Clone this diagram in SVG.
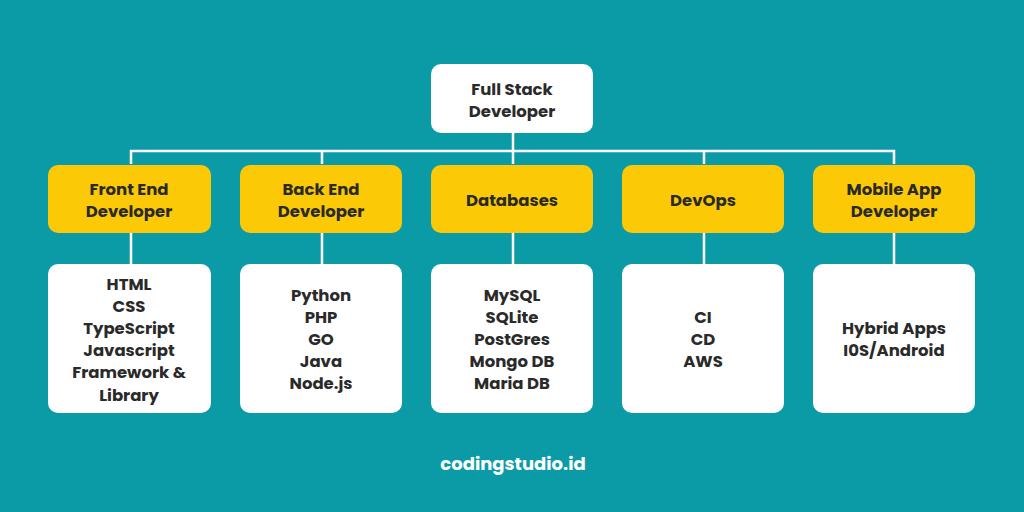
<svg xmlns="http://www.w3.org/2000/svg" width="1024" height="512" viewBox="0 0 1024 512">
<style>
.bg{fill:#0b9ba6}
.w{fill:#ffffff}
.y{fill:#fcc907}
.t{font-family:Poppins,"Inter","Liberation Sans",sans-serif;font-weight:700;font-size:16.5px;fill:#2a2a2a;text-anchor:middle}
.ln{stroke:#ffffff;stroke-width:2.5;fill:none}
.ft{font-family:Poppins,"Inter","Liberation Sans",sans-serif;font-weight:700;font-size:18px;fill:#ffffff;text-anchor:middle}
</style>
<rect class="bg" x="0" y="0" width="1024" height="512"/>
<g id="connectors">
<path class="ln" d="M513 133V151M131 164V151H894V164M322 151V164M513 151V164M704 151V164"/>
<path class="ln" d="M131 233V264M322 233V264M513 233V264M704 233V264M894 233V264"/>
</g>
<g id="root">
<rect class="w" x="431" y="64" width="162" height="69" rx="10"/>
<text class="t" x="512" y="95">Full Stack</text>
<text class="t" x="512" y="117">Developer</text>
</g>
<g id="frontend">
<rect class="y" x="48" y="165" width="163" height="68" rx="10"/>
<text class="t" x="129" y="195">Front End</text>
<text class="t" x="129" y="217">Developer</text>
</g>
<g id="backend">
<rect class="y" x="240" y="165" width="162" height="68" rx="10"/>
<text class="t" x="321" y="195">Back End</text>
<text class="t" x="321" y="217">Developer</text>
</g>
<g id="databases">
<rect class="y" x="431" y="165" width="162" height="68" rx="10"/>
<text class="t" x="512" y="206">Databases</text>
</g>
<g id="devops">
<rect class="y" x="622" y="165" width="162" height="68" rx="10"/>
<text class="t" x="703" y="206">DevOps</text>
</g>
<g id="mobile">
<rect class="y" x="813" y="165" width="162" height="68" rx="10"/>
<text class="t" x="894" y="195">Mobile App</text>
<text class="t" x="894" y="217">Developer</text>
</g>
<g id="frontend-list">
<rect class="w" x="48" y="264" width="163" height="149" rx="10"/>
<text class="t" x="129" y="290">HTML</text>
<text class="t" x="129" y="312">CSS</text>
<text class="t" x="129" y="334">TypeScript</text>
<text class="t" x="129" y="356">Javascript</text>
<text class="t" x="129" y="378">Framework &amp;</text>
<text class="t" x="129" y="401">Library</text>
</g>
<g id="backend-list">
<rect class="w" x="240" y="264" width="162" height="149" rx="10"/>
<text class="t" x="321" y="301">Python</text>
<text class="t" x="321" y="323">PHP</text>
<text class="t" x="321" y="345">GO</text>
<text class="t" x="321" y="367">Java</text>
<text class="t" x="321" y="389">Node.js</text>
</g>
<g id="databases-list">
<rect class="w" x="431" y="264" width="162" height="149" rx="10"/>
<text class="t" x="512" y="301">MySQL</text>
<text class="t" x="512" y="323">SQLite</text>
<text class="t" x="512" y="345">PostGres</text>
<text class="t" x="512" y="367">Mongo DB</text>
<text class="t" x="512" y="389">Maria DB</text>
</g>
<g id="devops-list">
<rect class="w" x="622" y="264" width="162" height="149" rx="10"/>
<text class="t" x="703" y="323">CI</text>
<text class="t" x="703" y="345">CD</text>
<text class="t" x="703" y="367">AWS</text>
</g>
<g id="mobile-list">
<rect class="w" x="813" y="264" width="162" height="149" rx="10"/>
<text class="t" x="894" y="334">Hybrid Apps</text>
<text class="t" x="894" y="356">I0S/Android</text>
</g>
<g id="footer">
<text class="ft" x="513" y="470">codingstudio.id</text>
</g>
</svg>
